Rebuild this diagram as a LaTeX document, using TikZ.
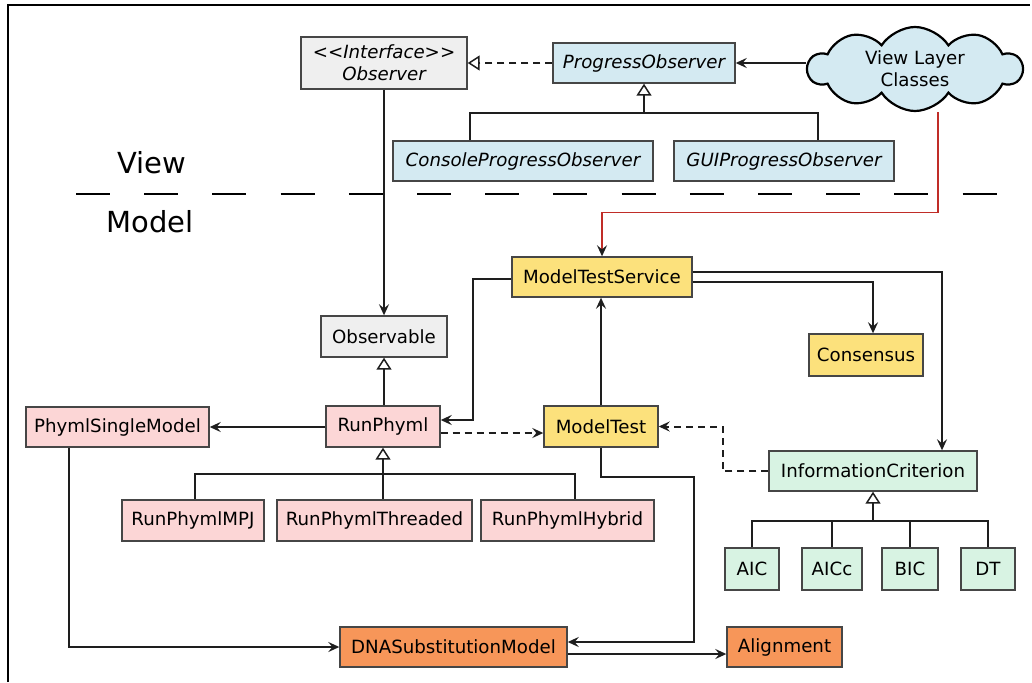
\documentclass[tikz,border=0pt]{standalone}
\usepackage{fontspec}
\setmainfont{DejaVu Sans}
\usetikzlibrary{arrows.meta,shapes.symbols,calc}

\definecolor{boxline}{RGB}{70,70,70}
\definecolor{wire}{RGB}{30,30,30}
\definecolor{cgray}{RGB}{239,239,239}
\definecolor{cblue}{RGB}{212,234,242}
\definecolor{cyellow}{RGB}{252,225,124}
\definecolor{cpink}{RGB}{252,214,214}
\definecolor{cgreen}{RGB}{216,243,227}
\definecolor{corange}{RGB}{247,150,89}
\definecolor{cred}{RGB}{192,45,40}

\tikzset{
  cls/.style={draw=boxline, line width=1.4pt, inner sep=0pt, align=center,
    font=\fontsize{18.2}{22}\selectfont},
  gray/.style={cls, fill=cgray},
  blue/.style={cls, fill=cblue, font=\fontsize{18.2}{22}\selectfont\itshape},
  yellow/.style={cls, fill=cyellow},
  pink/.style={cls, fill=cpink},
  green/.style={cls, fill=cgreen},
  orange/.style={cls, fill=corange},
  wh/.style n args={2}{minimum width=#1pt, minimum height=#2pt},
  conn/.style={draw=wire, line width=2pt},
  arr/.style={conn, -{Stealth[length=11pt, width=10pt, inset=4pt]}},
  darr/.style={arr, dash pattern=on 7pt off 5pt},
  inh/.style={conn, -{Triangle[length=12pt, width=15pt, fill=white, line width=1.5pt]}},
  dinh/.style={inh, dash pattern=on 7pt off 5pt},
  layer/.style={font=\fontsize{29}{34}\selectfont, inner sep=0pt},
}

\begin{document}
\begin{tikzpicture}[x=1pt, y=-1pt]
\useasboundingbox (0,0) rectangle (1032,682);

% frame edges
\draw[line width=2.6pt] (8,682) -- (8,5) -- (1030,5);

% view / model separator
\node[layer] (viewlbl) at (152,163) {View};
\node[layer] (modellbl) at (150,222) {Model};
\draw[line width=2.8pt, dash pattern=on 34pt off 34.2pt] (76,194) -- (997,194);

% view layer
\node[gray, wh={166}{52}, font=\fontsize{18.2}{22}\selectfont\itshape] (obs) at (384,63) {{<}{<}Interface{>}{>}\\Observer};
\node[blue, wh={182}{40}] (pobs) at (644,63) {ProgressObserver};
\node[blue, wh={260}{40}] (cpo) at (523,161) {ConsoleProgressObserver};
\node[blue, wh={220}{40}] (gpo) at (784,161) {GUIProgressObserver};
\node[cloud, cloud puffs=10, cloud puff arc=115, cloud ignores aspect,
  draw=black, line width=2.2pt, fill=cblue, minimum width=214pt, minimum height=84pt,
  align=center, font=\fontsize{18.2}{22}\selectfont, inner sep=0pt] (cloud) at (915,69) {View Layer\\Classes};

% model layer
\node[yellow, wh={180}{40}] (mts) at (602,277) {ModelTestService};
\node[gray, wh={126}{41}] (observable) at (384,336.5) {Observable};
\node[yellow, wh={114}{42}] (cons) at (866,355) {Consensus};
\node[pink, wh={183}{40}] (psm) at (117.5,427) {PhymlSingleModel};
\node[pink, wh={114}{41}] (run) at (383,426.5) {RunPhyml};
\node[yellow, wh={114}{41}] (mt) at (601,426.5) {ModelTest};
\node[green, wh={208}{40}] (ic) at (873,471) {InformationCriterion};
\node[pink, wh={142}{41}] (mpj) at (193,520.5) {RunPhymlMPJ};
\node[pink, wh={195}{41}] (thr) at (374.5,520.5) {RunPhymlThreaded};
\node[pink, wh={173}{41}] (hyb) at (567.5,520.5) {RunPhymlHybrid};
\node[green, wh={54}{42}] (aic) at (752,569) {AIC};
\node[green, wh={60}{42}] (aicc) at (832,569) {AICc};
\node[green, wh={56}{42}] (bic) at (910,569) {BIC};
\node[green, wh={54}{42}] (dt) at (988,569) {DT};
\node[orange, wh={227}{40}] (dna) at (453.5,647) {DNASubstitutionModel};
\node[orange, wh={115}{40}] (aln) at (784.5,647) {Alignment};

% bar junctions of the generalisations
\coordinate (pbar) at (644,113);
\coordinate (rbar) at (383,474);
\coordinate (ibar) at (873,521);

% observer side
\draw[dinh] (pobs.west) -- (obs.east);
\draw[arr] (cloud.west |- pobs.east) -- (pobs.east);
\draw[conn] ([xshift=-53pt]cpo.north) |- (pbar) -| ([xshift=34pt]gpo.north);
\draw[inh] (pbar) -- (pobs.south);
\draw[conn, draw=cred, line width=1.6pt, -{Stealth[length=11pt, width=10pt, inset=4pt, color=wire]}]
  ([xshift=23pt]cloud.south) |- ($(mts.north)+(0,-44)$) -- (mts.north);
\draw[arr] (obs.south) -- (observable.north -| obs.south);

% run classes
\draw[inh] (run.north -| observable.south) -- (observable.south);
\draw[arr] ($(mts.west)+(0,2)$) -| ($(run.east)+(32,-6.5)$) -- ($(run.east)+(0,-6.5)$);
\draw[darr] ($(run.east)+(0,6.5)$) -- ($(mt.west)+(0,6.5)$);
\draw[arr] (mt.north) -- (mts.south -| mt.north);
\draw[arr] (psm.east -| run.west) -- (psm.east);
\draw[conn] ([xshift=2pt]mpj.north) |- (rbar) -| ([xshift=7.5pt]hyb.north);
\draw[conn] (rbar) -- (thr.north -| rbar);
\draw[inh] (rbar) -- (run.south -| rbar);

% substitution model
\draw[arr] ($(psm.south)+(-48.5,0)$) |- (dna.west);
\draw[arr] (mt.south) |- ($(dna.east)+(126,-170)$) |- ($(dna.east)+(0,-5)$);
\draw[arr] ($(dna.east)+(0,7)$) -- ($(aln.west)+(0,7)$);

% service associations
\draw[arr] ($(mts.east)+(0,-5)$) -| ($(ic.north)+(69,0)$);
\draw[arr] ($(mts.east)+(0,5)$) -| ($(cons.north)+(7,0)$);
\draw[darr] (ic.west) -| ($(mt.east)+(64,0)$) -- (mt.east);

% information criteria
\draw[conn] (aic.north) |- (ibar) -| (dt.north);
\draw[conn] (aicc.north |- ibar) -- (aicc.north);
\draw[conn] (bic.north |- ibar) -- (bic.north);
\draw[inh] (ibar) -- (ic.south);
\end{tikzpicture}
\end{document}
